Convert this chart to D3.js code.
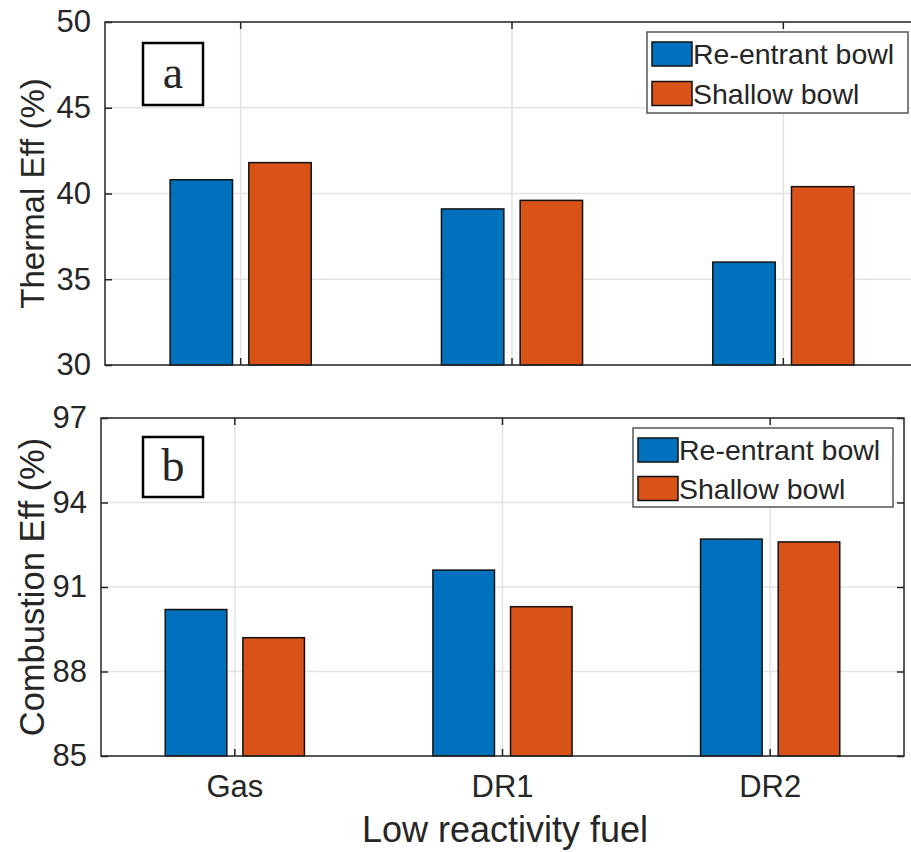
<!DOCTYPE html>
<html>
<head>
<meta charset="utf-8">
<script src="https://cdn.jsdelivr.net/npm/d3@7"></script>
<style>
  body { margin: 0; background: #fff; }
  text { font-family: "Liberation Sans", Arial, sans-serif; fill: #262626; }
</style>
</head>
<body>
<svg width="911" height="852"></svg>
<script>
var svg = d3.select('svg');

// data
var fuels = ['Gas', 'DR1', 'DR2'];
var series = ['Re-entrant bowl', 'Shallow bowl'];
var colors = ['#0072BD', '#D95319'];
var thermalReentrant = [40.8, 39.1, 36.0];
var thermalShallow = [41.8, 39.6, 40.4];
var combustionReentrant = [90.2, 91.6, 92.7];
var combustionShallow = [89.2, 90.3, 92.6];
var thermalTicks = [30, 35, 40, 45, 50];
var combustionTicks = [85, 88, 91, 94, 97];

var panels = [
  {box: {left: 105, right: 919, top: 22, bottom: 365}, domain: [30, 50], ticks: thermalTicks,
   values: [thermalReentrant, thermalShallow], ylabel: 'Thermal Eff (%)', ysize: 33, tag: 'a',
   tagBox: [143, 43, 60, 62], legend: [647, 32, 261, 81]},
  {box: {left: 101, right: 904, top: 418, bottom: 756}, domain: [85, 97], ticks: combustionTicks,
   values: [combustionReentrant, combustionShallow], ylabel: 'Combustion Eff (%)', ysize: 34.5, tag: 'b',
   tagBox: [143, 437, 60, 60], legend: [633, 428, 260, 79]}
];

panels.forEach(function(p, pi) {
  var b = p.box;
  var x = d3.scaleBand().domain(fuels).range([b.left, b.right]).padding(0);
  var bw = x.bandwidth();
  var inner = d3.scaleBand().domain(series).range([-0.26 * bw, 0.26 * bw]).paddingInner(0.207);
  var y = d3.scaleLinear().domain(p.domain).range([b.bottom, b.top]);
  var g = svg.append('g');

  // grid
  g.selectAll('.hg').data(p.ticks).enter().append('line')
    .attr('x1', b.left).attr('x2', b.right)
    .attr('y1', function(d) { return y(d); }).attr('y2', function(d) { return y(d); })
    .attr('stroke', '#e3e3e3').attr('stroke-width', 1.5);
  g.selectAll('.vg').data(fuels).enter().append('line')
    .attr('x1', function(d) { return x(d) + bw / 2; }).attr('x2', function(d) { return x(d) + bw / 2; })
    .attr('y1', b.top).attr('y2', b.bottom)
    .attr('stroke', '#e3e3e3').attr('stroke-width', 1.5);

  // bars
  series.forEach(function(s, si) {
    g.selectAll('.bar' + si).data(p.values[si]).enter().append('rect')
      .attr('x', function(d, i) { return x(fuels[i]) + bw / 2 + inner(s); })
      .attr('width', inner.bandwidth())
      .attr('y', function(d) { return y(d); })
      .attr('height', function(d) { return b.bottom - y(d); })
      .attr('fill', colors[si])
      .attr('stroke', '#111').attr('stroke-width', 1.5);
  });

  // axes (box + inward ticks)
  var left = d3.axisLeft(y).tickValues(p.ticks).tickSizeInner(-7).tickSizeOuter(0).tickPadding(14);
  var ga = g.append('g').attr('transform', 'translate(' + b.left + ',0)').call(left);
  ga.select('.domain').remove();
  ga.selectAll('line').attr('stroke', '#262626').attr('stroke-width', 1.5);
  ga.selectAll('text').style('font-size', '31px').attr('fill', '#262626');

  var right = d3.axisRight(y).tickValues(p.ticks).tickSizeInner(-7).tickSizeOuter(0).tickFormat('');
  var gr = g.append('g').attr('transform', 'translate(' + b.right + ',0)').call(right);
  gr.select('.domain').remove();
  gr.selectAll('line').attr('stroke', '#262626').attr('stroke-width', 1.5);

  var bottom = d3.axisBottom(x).tickSizeInner(-7).tickSizeOuter(0).tickPadding(19)
    .tickFormat(function(d) { return pi === 1 ? d : ''; });
  var gb = g.append('g').attr('transform', 'translate(0,' + b.bottom + ')').call(bottom);
  gb.select('.domain').remove();
  gb.selectAll('line').attr('stroke', '#262626').attr('stroke-width', 1.5);
  gb.selectAll('text').style('font-size', '31px').attr('fill', '#262626');

  var top = d3.axisTop(x).tickSizeInner(-7).tickSizeOuter(0).tickFormat('');
  var gt = g.append('g').attr('transform', 'translate(0,' + b.top + ')').call(top);
  gt.select('.domain').remove();
  gt.selectAll('line').attr('stroke', '#262626').attr('stroke-width', 1.5);

  g.append('rect')
    .attr('x', b.left).attr('y', b.top)
    .attr('width', b.right - b.left).attr('height', b.bottom - b.top)
    .attr('fill', 'none').attr('stroke', '#262626').attr('stroke-width', 1.5);

  // y label
  g.append('text')
    .attr('transform', 'translate(' + 44 + ',' + ((b.top + b.bottom) / 2) + ') rotate(-90)')
    .attr('text-anchor', 'middle')
    .style('font-size', p.ysize + 'px')
    .text(p.ylabel);

  // panel tag
  var tb = p.tagBox;
  g.append('rect').attr('x', tb[0]).attr('y', tb[1]).attr('width', tb[2]).attr('height', tb[3])
    .attr('fill', '#fff').attr('stroke', '#000').attr('stroke-width', 2.5);
  g.append('text')
    .attr('x', tb[0] + tb[2] / 2).attr('y', tb[1] + tb[3] / 2 + 14)
    .attr('text-anchor', 'middle')
    .style('font-family', '"Liberation Serif", "Times New Roman", serif')
    .style('font-size', '46px')
    .attr('fill', '#000')
    .text(p.tag);

  // legend
  var lg = p.legend;
  g.append('rect').attr('x', lg[0]).attr('y', lg[1]).attr('width', lg[2]).attr('height', lg[3])
    .attr('fill', '#fff').attr('stroke', '#555').attr('stroke-width', 1.5);
  var rowH = lg[3] / 2;
  series.forEach(function(s, si) {
    g.append('rect')
      .attr('x', lg[0] + 5).attr('y', lg[1] + 10 + si * (rowH - 1))
      .attr('width', 40).attr('height', 24)
      .attr('fill', colors[si]).attr('stroke', '#111').attr('stroke-width', 1.5);
    g.append('text')
      .attr('x', lg[0] + 46).attr('y', lg[1] + 32 + si * (rowH - 1))
      .style('font-size', '28.5px')
      .text(s);
  });
});

svg.append('text')
  .attr('x', 505).attr('y', 842)
  .attr('text-anchor', 'middle')
  .style('font-size', '36px')
  .text('Low reactivity fuel');
</script>
</body>
</html>
